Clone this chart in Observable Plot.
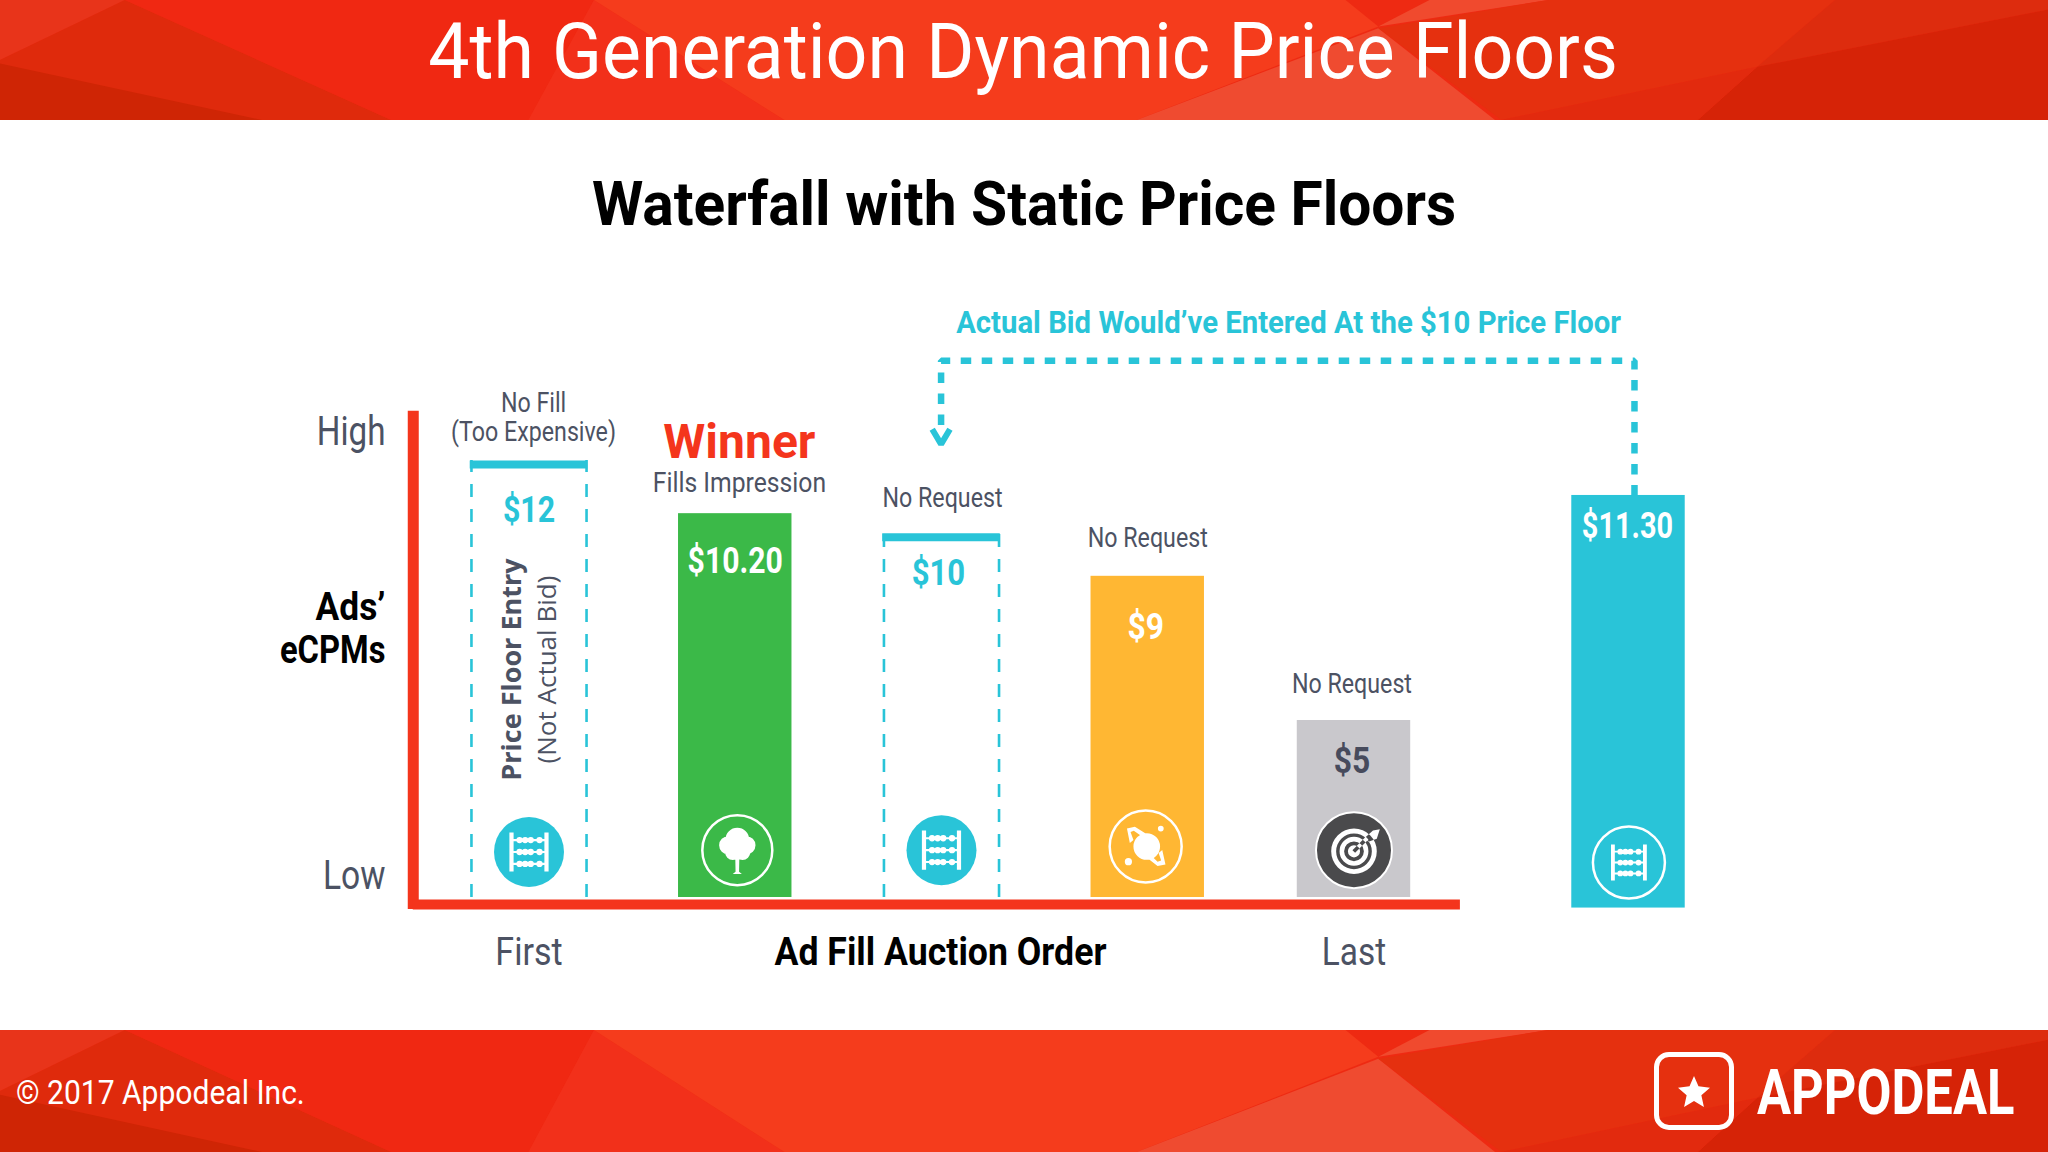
<!DOCTYPE html>
<html><head><meta charset="utf-8">
<script src="https://cdn.jsdelivr.net/npm/d3@7"></script>
<script src="https://cdn.jsdelivr.net/npm/@observablehq/plot@0.6"></script>
<style>
html,body{margin:0;padding:0;background:#fff;width:2048px;height:1152px;overflow:hidden;font-family:Roboto,sans-serif}
.band{position:absolute;left:0;width:2048px;overflow:hidden;background:#EE2A12}
.band i{position:absolute;inset:0;display:block}
h1,h2,.foot{position:absolute;margin:0;white-space:nowrap;z-index:2}
h1{left:1023px;top:52px;transform:translate(-50%,-50%) scaleX(.941);color:#fff;font-weight:400;font-size:78px;line-height:1}
h2{left:1024px;top:204px;transform:translate(-50%,-50%) scaleX(.946);color:#000;font-weight:700;font-size:62px;line-height:1}
#head{top:0;height:120px}
#foot{top:1030px;height:122px}
#chart{position:absolute;left:0;top:240px}
.copy{left:16px;top:62px;transform:translateY(-50%) scaleX(.91);transform-origin:left center;color:#fff;font-size:33px;line-height:1}
.brand{left:1757px;top:62px;transform:translateY(-50%) scaleX(.805);transform-origin:left center;color:#fff;font-weight:700;font-size:63px;line-height:1}
.logo{position:absolute;left:1654px;top:22px;width:70px;height:68px;border:5px solid #fff;border-radius:15px;z-index:2}
.star{position:absolute;left:1678px;top:46px;width:32px;height:32px;background:#fff;clip-path:polygon(50% 0,64% 32%,100% 37%,73% 60%,81% 97%,50% 78%,19% 97%,27% 60%,0 37%,36% 32%);z-index:2}
</style></head>
<body>
<div class="band" id="head"><h1>4th Generation Dynamic Price Floors</h1></div>
<h2>Waterfall with Static Price Floors</h2>
<div id="chart"></div>
<div class="band" id="foot">
  <div class="foot copy">© 2017 Appodeal Inc.</div>
  <div class="logo"></div><div class="star"></div>
  <div class="foot brand">APPODEAL</div>
</div>
<script>
// ---- values ----
const teal = "#29C4D8", red = "#F4351C", ink = "#4C5263";
const barNames  = ["Winner", "Ad network C", "Ad network D", "Actual bid"];
const barOrder  = [2, 4, 5, 6.331];
const barLevel  = [10.54, 8.82, 4.86, 11.04];
const barBase   = [0, 0, 0, -0.29];
const barFill   = ["#3BB948", "#FFB733", "#C9C8CC", teal];
const floorOrder = [1, 3];
const floorLevel = [12, 10];

const bars = barNames.map((name, i) => ({name, order: barOrder[i], level: barLevel[i], base: barBase[i], fill: barFill[i]}));
const floors = floorOrder.map((order, i) => ({order, level: floorLevel[i]}));
const half = 0.275;

const valueText  = ["$12", "$10.20", "$10", "$9", "$5", "$11.30"];
const valueOrder = [1, 2, 2.985, 3.99, 4.99, 6.326];
const valueLevel = [10.63, 9.23, 8.9, 7.42, 3.75, 10.19];
const valueFill  = [teal, "#fff", teal, "#fff", "#474B5C", "#fff"];
const values = valueText.map((t, i) => ({t, order: valueOrder[i], level: valueLevel[i], fill: valueFill[i]}));

const noteText  = ["No Fill", "(Too Expensive)", "Fills Impression", "No Request", "No Request", "No Request"];
const noteOrder = [1.022, 1.022, 2.02, 3.005, 4, 4.99];
const noteLevel = [13.58, 12.77, 11.38, 10.96, 9.85, 5.85];
const notes = noteText.map((t, i) => ({t, order: noteOrder[i], level: noteLevel[i]}));

// connector from the actual bid back to the $10 floor
const linkOrder = [6.36, 6.36, 2.998, 2.998];
const linkLevel = [11.04, 14.74, 14.74, 12.7];
const link = linkOrder.map((order, i) => ({order, level: linkLevel[i]}));
const chevOrder = [2.955, 2.998, 3.041];
const chevLevel = [12.86, 12.45, 12.86];
const chev = chevOrder.map((order, i) => ({order, level: chevLevel[i]}));

// icon badges
const icons = [
  {kind: "abacusDisc", order: 1,     level: 1.25},
  {kind: "tree",       order: 2.01,  level: 1.3},
  {kind: "abacusDisc", order: 3,     level: 1.3},
  {kind: "planet",     order: 3.99,  level: 1.4},
  {kind: "target",     order: 5,     level: 1.3},
  {kind: "abacusRing", order: 6.333, level: 0.96}
];
const only = k => icons.filter(d => d.kind === k);

// ---- faceted background shared by header and footer (percent of the band) ----
const facets = [
  ["#E8341A", "0 0,6.1% 0,0 50%"],
  ["#DF2A0C", "0 50%,6.1% 0,19.1% 100%,0 100%"],
  ["#CF2505", "0 53%,12.8% 100%,0 100%"],
  ["#F02812", "6.1% 0,29% 0,25.8% 100%,19.1% 100%"],
  ["#F2301A", "29% 0,38.3% 100%,25.8% 100%"],
  ["#F53C1C", "29% 0,65.7% 0,67.3% 22%,55.5% 100%,38.3% 100%"],
  ["#EF4B30", "67.3% 23.6%,73% 100%,55.5% 100%"],
  ["#F04A2E", "69.8% 0,75.6% 0,67.3% 22%"],
  ["#E5300F", "67.3% 23.6%,75.6% 0,89.6% 0,85.8% 55.6%,73.3% 100%"],
  ["#DD2C0E", "89.6% 0,100% 0,100% 8%,85.8% 55.6%"],
  ["#D62307", "100% 8%,100% 100%,82.9% 100%,85.8% 55.6%"],
  ["#E22A0E", "73.3% 100%,85.8% 55.6%,82.9% 100%"]
];
for (const id of ["head", "foot"]) {
  const band = document.getElementById(id);
  const first = band.firstElementChild;
  for (const [c, poly] of facets) {
    const f = document.createElement("i");
    f.style.background = c;
    f.style.clipPath = `polygon(${poly})`;
    band.insertBefore(f, first);
  }
}

// ---- icon glyphs as d3 symbol types, unit = radius of the dot ----
const glyph = fn => ({draw(ctx, size){ const r = Math.sqrt(size / Math.PI);
  fn({
    rect:(x,y,w,h)=>ctx.rect(x*r,y*r,w*r,h*r),
    disc:(x,y,q)=>{ctx.moveTo((x+q)*r,y*r);ctx.arc(x*r,y*r,q*r,0,2*Math.PI);ctx.closePath();},
    hole:(x,y,q)=>{ctx.moveTo((x+q)*r,y*r);ctx.arc(x*r,y*r,q*r,2*Math.PI,0,true);ctx.closePath();},
    poly:(...p)=>{ctx.moveTo(p[0]*r,p[1]*r);for(let i=2;i<p.length;i+=2)ctx.lineTo(p[i]*r,p[i+1]*r);ctx.closePath();}
  });
}});
const abacus = glyph(g => {
  g.rect(-.56,-.56,.12,1.12); g.rect(.44,-.56,.12,1.12);
  for (const y of [-.34,0,.34]) {
    g.rect(-.45,y-.03,.9,.06);
    for (const x of [-.27,-.11,.05,.3]) g.disc(x,y,.09);
  }
});
const tree = glyph(g => {
  g.disc(0,-.3,.34); g.disc(-.26,-.14,.26); g.disc(.26,-.14,.26); g.disc(-.13,.06,.22); g.disc(.15,.06,.22);
  g.poly(-.06,.1,.06,.1,.05,.62,.13,.68,-.13,.68,-.05,.62);
});
const planet = glyph(g => {
  g.disc(.03,0,.37);
  g.disc(.42,-.5,.08); g.disc(-.48,.42,.1);
  g.poly(-.52,-.5,-.3,-.55,.0,-.36,-.1,-.28,-.33,-.44,-.42,-.4,-.34,-.18,-.44,-.1);
  g.poly(.55,.5,.33,.54,.08,.35,.18,.28,.33,.42,.43,.39,.36,.18,.46,.1);
});
const target = glyph(g => {
  g.disc(0,.03,.6); g.hole(0,.03,.47); g.disc(0,.03,.38); g.hole(0,.03,.26); g.disc(0,.03,.16);
  g.poly(-.04,.0,.03,.07,.38,-.28,.31,-.35);
  g.poly(.28,-.32,.38,-.22,.6,-.3,.68,-.55,.5,-.52);
});

// ---- text ----
const txt = (t, order, level, o) => Plot.text([{t, order, level}], {x:"order", y:"level", text:"t", ...o});

const plot = Plot.plot({
  width: 2048, height: 790, margin: 0,
  style: {background: "transparent", fontFamily: "Roboto, sans-serif", overflow: "visible"},
  x: {type: "linear", domain: [1, 6.331], range: [528.5, 1628], axis: null},
  y: {type: "linear", domain: [0, 12], range: [657, 220], axis: null},
  marks: [
    // dashed price-floor columns
    Plot.ruleX(floors, {x: d => d.order - 0.279, y1: 0, y2: "level", stroke: teal, strokeWidth: 2.6, strokeDasharray: "13,12"}),
    Plot.ruleX(floors, {x: d => d.order + 0.279, y1: 0, y2: "level", stroke: teal, strokeWidth: 2.6, strokeDasharray: "13,12"}),
    Plot.ruleY(floors, {y: "level", x1: d => d.order - 0.285, x2: d => d.order + 0.285, stroke: teal, strokeWidth: 8, dy: 4}),
    // solid bars
    Plot.rect(bars, {x1: d => d.order - half, x2: d => d.order + half, y1: "base", y2: "level", fill: "fill"}),
    // axes
    Plot.ruleX([0.4388], {y1: -0.33, y2: 13.35, stroke: red, strokeWidth: 11}),
    Plot.ruleY([-0.192], {x1: 0.4388, x2: 5.516, stroke: red, strokeWidth: 10}),
    // connector
    Plot.line(link, {x: "order", y: "level", stroke: teal, strokeWidth: 6.5, strokeDasharray: "10.5,10.5", strokeLinecap: "butt", strokeLinejoin: "miter", curve: "linear"}),
    Plot.line(chev, {x: "order", y: "level", stroke: teal, strokeWidth: 6, strokeLinecap: "butt", strokeLinejoin: "miter", curve: "linear"}),
    // badges
    Plot.dot(only("abacusDisc"), {x: "order", y: "level", r: 35, fill: teal, stroke: "none"}),
    Plot.dot(only("abacusDisc"), {x: "order", y: "level", r: 35, symbol: abacus, fill: "#fff", stroke: "none"}),
    Plot.dot(only("tree"), {x: "order", y: "level", r: 35, fill: "none", stroke: "#fff", strokeWidth: 2.5}),
    Plot.dot(only("tree"), {x: "order", y: "level", r: 35, symbol: tree, fill: "#fff", stroke: "none"}),
    Plot.dot(only("planet"), {x: "order", y: "level", r: 36, fill: "none", stroke: "#fff", strokeWidth: 2.5}),
    Plot.dot(only("planet"), {x: "order", y: "level", r: 36, symbol: planet, fill: "#fff", stroke: "none"}),
    Plot.dot(only("target"), {x: "order", y: "level", r: 38, fill: "#4A4A4C", stroke: "#fff", strokeWidth: 2}),
    Plot.dot(only("target"), {x: "order", y: "level", r: 38, symbol: target, fill: "#fff", stroke: "none"}),
    Plot.dot(only("abacusRing"), {x: "order", y: "level", r: 36, fill: "none", stroke: "#fff", strokeWidth: 2.5}),
    Plot.dot(only("abacusRing"), {x: "order", y: "level", r: 32, symbol: abacus, fill: "#fff", stroke: "none"}),
    // value labels
    Plot.text(values, {x: "order", y: "level", text: "t", fill: "fill", fontSize: 37, fontWeight: 700}),
    // notes above the bars
    Plot.text(notes, {x: "order", y: "level", text: "t", fill: ink, fontSize: 27}),
    txt("Winner", 2.02, 12.5, {fill: red, fontSize: 48, fontWeight: 700}),
    // axis wording
    txt("High", 0.304, 12.78, {textAnchor: "end", fill: ink, fontSize: 40}),
    txt("Low", 0.304, 0.58, {textAnchor: "end", fill: ink, fontSize: 40}),
    txt("Ads’", 0.304, 7.95, {textAnchor: "end", fill: "#000", fontSize: 38, fontWeight: 700}),
    txt("eCPMs", 0.304, 6.77, {textAnchor: "end", fill: "#000", fontSize: 38, fontWeight: 700}),
    txt("First", 1, -1.53, {fill: ink, fontSize: 38}),
    txt("Last", 5, -1.53, {fill: ink, fontSize: 38}),
    txt("Ad Fill Auction Order", 2.995, -1.53, {fill: "#000", fontSize: 38, fontWeight: 700}),
    txt("Actual Bid Would’ve Entered At the $10 Price Floor", 4.683, 15.77, {fill: teal, fontSize: 31, fontWeight: 700}),
    // rotated column text
    txt("Price Floor Entry", 0.92, 6.26, {rotate: -90, fill: ink, fontSize: 27, fontWeight: 700, fontFamily: "Open Sans"}),
    txt("(Not Actual Bid)", 1.09, 6.26, {rotate: -90, fill: ink, fontSize: 26, fontFamily: "Open Sans"})
  ]
});
document.getElementById("chart").append(plot);

// the reference face is a condensed DIN-like sans: tighten the horizontal run of the Roboto labels
const fit = new Map([
  ["Actual Bid Would’ve Entered At the $10 Price Floor", .945],
  ["Ad Fill Auction Order", .938], ["Winner", 1.0], ["Fills Impression", .915],
  ["High", .83], ["Low", .84], ["Ads’", .93], ["First", .895], ["Last", .88],
  ["$10.20", .815], ["$11.30", .78], ["$12", .82], ["$10", .84], ["$9", .86], ["$5", .86]
]);
d3.select(plot).selectAll("text").each(function () {
  if (this.textContent.startsWith("Price Floor") || this.textContent.startsWith("(Not")) return;
  const w = this.getComputedTextLength();
  this.setAttribute("textLength", (w * (fit.get(this.textContent) ?? .86)).toFixed(1));
  this.setAttribute("lengthAdjust", "spacingAndGlyphs");
});
</script>
</body></html>
